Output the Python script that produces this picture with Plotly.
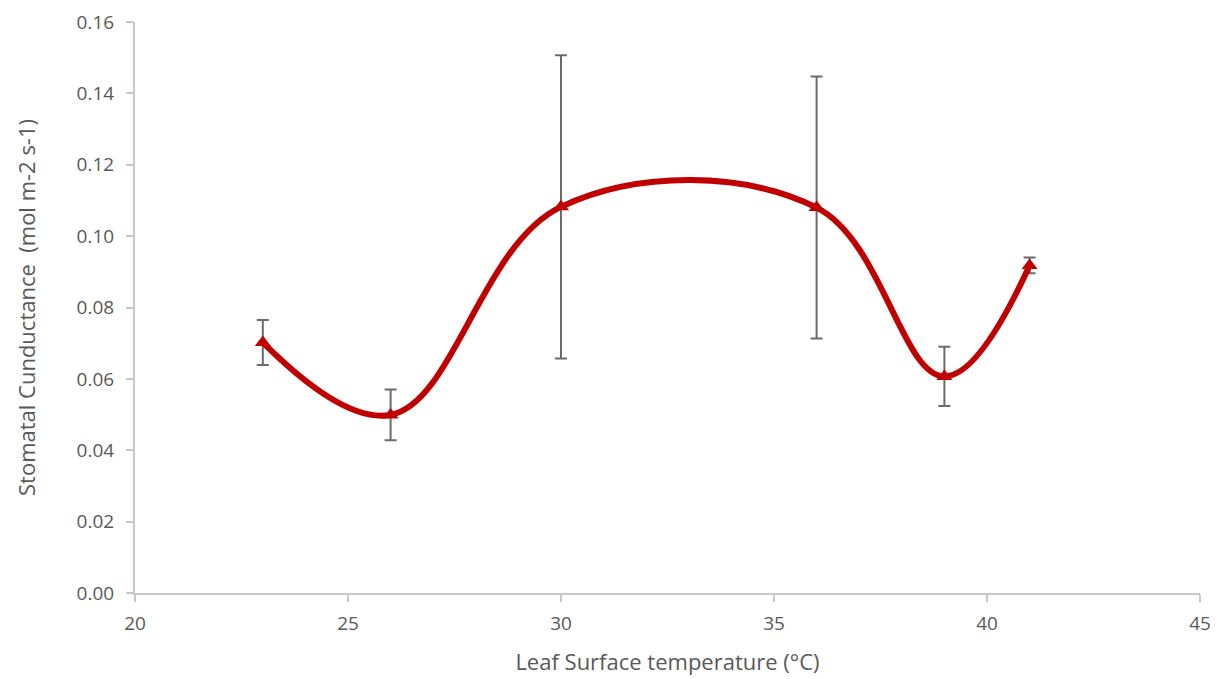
import plotly.graph_objects as go

temperature = [23, 26, 30, 36, 39, 41]
conductance = [0.0702, 0.0499, 0.1082, 0.1080, 0.0607, 0.0918]
error = [0.0063, 0.0071, 0.0425, 0.0367, 0.0083, 0.0022]

fig = go.Figure()
fig.add_trace(go.Scatter(
    x=temperature, y=conductance, mode="markers",
    marker=dict(size=1, color="rgba(0,0,0,0)"),
    error_y=dict(type="data", array=error, visible=True, color="#6b6b6b", thickness=2, width=6),
    showlegend=False, hoverinfo="skip"))
fig.add_trace(go.Scatter(
    x=temperature, y=conductance, mode="lines+markers",
    line=dict(color="#C00000", width=6, shape="spline", smoothing=1.1),
    marker=dict(symbol="triangle-up", size=14, color="#C00000"),
    showlegend=False))

axis_common = dict(showgrid=False, zeroline=False, showline=True, linecolor="#c8c8c8", linewidth=2,
                   ticks="outside", tickcolor="#c8c8c8", ticklen=7, tickwidth=1.5, automargin=False,
                   ticklabeloverflow="allow",
                   tickfont=dict(family="Open Sans", size=19, color="#595959"))
fig.update_xaxes(range=[20, 45], dtick=5, tick0=20, ticklabelstandoff=5,
                 title=dict(text="Leaf Surface temperature (°C)", font=dict(family="Open Sans", size=22, color="#595959"), standoff=20),
                 **axis_common)
fig.update_yaxes(range=[0, 0.16], dtick=0.02, tickformat=".2f", ticklabelstandoff=8,
                 title=dict(text="Stomatal Cunductance  (mol m-2 s-1)", font=dict(family="Open Sans", size=22, color="#595959"), standoff=35),
                 **axis_common)
fig.update_layout(width=1214, height=671, plot_bgcolor="white", paper_bgcolor="white",
                  margin=dict(l=127, r=22, t=14, b=86))
fig.write_html("out.html")
